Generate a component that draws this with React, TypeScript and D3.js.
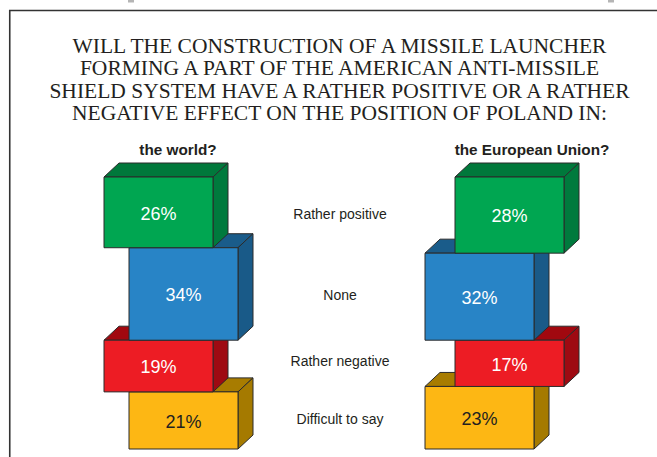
import React from "react";
import * as d3 from "d3";

const titleLines = [
  "WILL THE CONSTRUCTION OF A MISSILE LAUNCHER",
  "FORMING A PART OF THE AMERICAN ANTI-MISSILE",
  "SHIELD SYSTEM HAVE A RATHER POSITIVE OR A RATHER",
  "NEGATIVE EFFECT ON THE POSITION OF POLAND IN:",
];
const categories = ["Rather positive", "None", "Rather negative", "Difficult to say"];
const panels = ["the world?", "the European Union?"];
const worldValues = [26, 34, 19, 21];
const euValues = [28, 32, 17, 23];

const frontColors = ["#00A651", "#2884C6", "#ED1C24", "#FDB714"];
const topColors = ["#00783B", "#1A5C8A", "#A1080F", "#A87C00"];
const sideColors = ["#007A3D", "#195A88", "#9E0A12", "#A57A00"];
const textColors = ["#ffffff", "#ffffff", "#ffffff", "#231F20"];

const W = 657;
const H = 457;
const boxW = 109;
const dx = 15;
const dy = 14;
const stackTop = 177;
const sans = "Liberation Sans, Arial, sans-serif";

const y = d3.scaleLinear().domain([0, 100]).range([0, 272]);

type Seg = { i: number; y0: number; y1: number; x: number; v: number };

function buildStack(values: number[], baseX: number, shift: number): Seg[] {
  let acc = 0;
  return values.map((v, i) => {
    const y0 = stackTop + y(acc);
    acc += v;
    const y1 = stackTop + y(acc);
    const x = baseX + (i % 2 === 1 ? shift : 0);
    return { i, y0, y1, x, v };
  });
}

const left = buildStack(worldValues, 104, 25);
const right = buildStack(euValues, 455, -30);

function Box({ s }: { s: Seg }) {
  const { x, y0, y1, i, v } = s;
  const x1 = x + boxW;
  const top = `M${x},${y0}L${x + dx},${y0 - dy}L${x1 + dx},${y0 - dy}L${x1},${y0}Z`;
  const side = `M${x1},${y0}L${x1 + dx},${y0 - dy}L${x1 + dx},${y1 - dy}L${x1},${y1}Z`;
  return (
    <g stroke="#2b2b2b" strokeWidth={1} strokeLinejoin="round">
      <path d={top} fill={topColors[i]} />
      <path d={side} fill={sideColors[i]} />
      <rect x={x} y={y0} width={boxW} height={y1 - y0} fill={frontColors[i]} />
      <text
        x={x + boxW / 2}
        y={(y0 + y1) / 2}
        dy="0.4em"
        textAnchor="middle"
        fontFamily={sans}
        fontSize={18}
        fill={textColors[i]}
        stroke="none"
      >
        {v}%
      </text>
    </g>
  );
}

export default function App() {
  const labelY = categories.map((_, i) => (left[i].y0 + left[i].y1 + right[i].y0 + right[i].y1) / 4);
  return (
    <svg
      width={W}
      height={H}
      viewBox={`0 0 ${W} ${H}`}
      style={{ position: "absolute", left: 0, top: 0, display: "block", background: "#fff" }}
    >
      <rect x={0} y={0} width={W} height={H} fill="#fff" />
      <rect x={128} y={0} width={6} height={2.5} fill="#b5b5b5" />
      <rect x={608} y={0} width={6} height={2.5} fill="#b5b5b5" />
      <path d={`M9.75,${H}V10.5H${W}`} fill="none" stroke="#333" strokeWidth={1.6} />
      {titleLines.map((t, k) => (
        <text
          key={k}
          x={339.5}
          y={53 + k * 22.3}
          textAnchor="middle"
          fontFamily="Liberation Serif, Times New Roman, serif"
          fontSize={21.5}
          fill="#231F20"
        >
          {t}
        </text>
      ))}
      <text x={178} y={155} textAnchor="middle" fontFamily={sans} fontWeight="bold" fontSize={15.3} fill="#231F20">
        {panels[0]}
      </text>
      <text x={532} y={155} textAnchor="middle" fontFamily={sans} fontWeight="bold" fontSize={15.3} fill="#231F20">
        {panels[1]}
      </text>
      {[...left].reverse().map((s) => (
        <Box key={"l" + s.i} s={s} />
      ))}
      {[...right].reverse().map((s) => (
        <Box key={"r" + s.i} s={s} />
      ))}
      {categories.map((c, i) => (
        <text
          key={c}
          x={340}
          y={labelY[i] - (i === 2 ? 4 : 0)}
          dy="0.35em"
          textAnchor="middle"
          fontFamily={sans}
          fontSize={14}
          fill="#231F20"
        >
          {c}
        </text>
      ))}
    </svg>
  );
}
